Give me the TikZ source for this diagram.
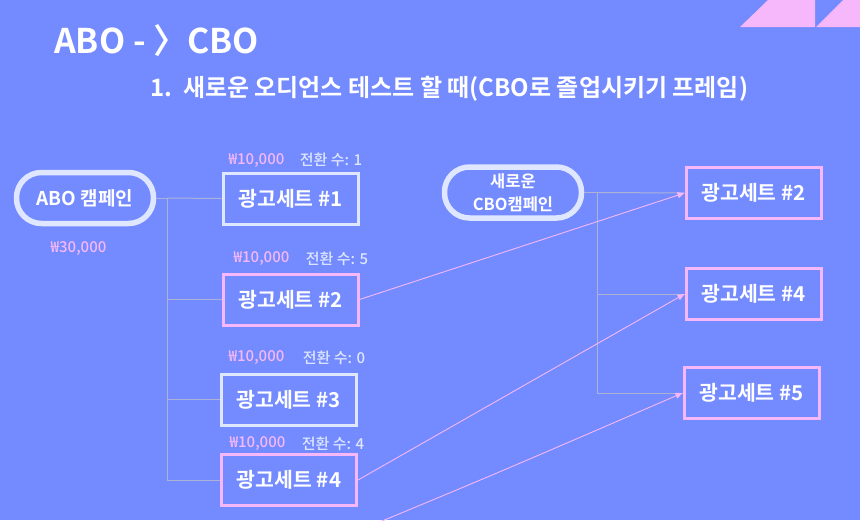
\documentclass[tikz,border=0pt]{standalone}
\usepackage{fontspec}
\newfontfamily\krb{Noto Sans CJK KR Bold}
\newfontfamily\krm{Noto Sans CJK KR Medium}
\usetikzlibrary{arrows.meta}
\definecolor{bg}{RGB}{116,138,255}
\definecolor{pk}{RGB}{246,184,250}
\definecolor{lt}{RGB}{222,231,255}
\definecolor{gl}{RGB}{172,178,214}
\tikzset{
  pill/.style={draw=lt, line width=5.5pt, rounded corners=25pt, minimum width=137pt, minimum height=51pt, inner sep=0pt, text=white, font=\krb\fontsize{19}{21}\selectfont, align=center},
  adbox/.style={line width=3pt, minimum width=135pt, minimum height=51pt, inner sep=0pt, text=white, font=\krb\fontsize{20.5}{22}\selectfont},
  ltbox/.style={adbox, draw=lt},
  pkbox/.style={adbox, draw=pk},
  price/.style={text=pk, font=\krm\fontsize{15}{17}\selectfont, inner sep=0pt},
  conv/.style={text=lt, font=\krm\fontsize{15}{17}\selectfont, inner sep=0pt},
  tree/.style={draw=gl, line width=1pt},
  link/.style={draw=pk, line width=0.9pt, -{Triangle[length=7pt,width=6pt]}},
}
\begin{document}
\begin{tikzpicture}[x=1pt,y=-1pt]
\fill[bg] (0,0) rectangle (860,520);
\useasboundingbox (0,0) rectangle (860,520);
% corner shapes
\fill[pk] (740,27) -- (768,0) -- (815,0) -- (815,27) -- cycle;
\fill[pk] (816,27) -- (843,0) -- (860,0) -- (860,27) -- cycle;
% titles
\node[anchor=west, text=white, font=\krb\fontsize{34}{37}\selectfont, inner sep=0pt] (title) at (54,41) {ABO - 〉CBO};
\node[anchor=west, text=white, font=\krb\fontsize{24}{27}\selectfont, inner sep=0pt] (sub) at (150,89) {1.\ \ 새로운 오디언스 테스트 할 때(CBO로 졸업시키기 프레임)};
% left campaign
\node[pill] (abo) at (85,198) {ABO 캠페인};
\node[price] (abop) at (78.5,249) {₩30,000};
\node[ltbox] (a1) at (290.5,198.5) {광고세트 \#1};
\node[pkbox] (a2) at (290.5,299.5) {광고세트 \#2};
\node[ltbox] (a3) at (288.5,399.5) {광고세트 \#3};
\node[pkbox] (a4) at (289,480) {광고세트 \#4};
\node[price] (p1) at (256.5,161) {₩10,000};
\node[conv]  (c1) at (331,160) {전환 수: 1};
\node[price] (p2) at (261.5,259) {₩10,000};
\node[conv]  (c2) at (337,259) {전환 수: 5};
\node[price] (p3) at (256.5,358) {₩10,000};
\node[conv]  (c3) at (334,358) {전환 수: 0};
\node[price] (p4) at (257.5,444) {₩10,000};
\node[conv]  (c4) at (333,444) {전환 수: 4};
% right campaign
\node[pill, font=\krb\fontsize{16.5}{23}\selectfont] (cbo) at (513,192.5) {새로운\\CBO캠페인};
\node[pkbox] (b2) at (753.5,193) {광고세트 \#2};
\node[pkbox] (b4) at (753.5,294) {광고세트 \#4};
\node[pkbox] (b5) at (751.5,393) {광고세트 \#5};
% tree connectors left
\coordinate (lj) at (167,198);
\draw[tree] (abo.east) -- (lj) -- (lj |- a4.west) -- (a4.west);
\draw[tree] (lj) -- (a1.west);
\draw[tree] (lj |- a2.west) -- (a2.west);
\draw[tree] (lj |- a3.west) -- (a3.west);
% tree connectors right
\coordinate (rj) at (597,192.5);
\draw[tree] (cbo.east) -- (rj) -- (rj |- b5.west) -- (b5.west);
\draw[tree] (rj) -- (b2.west);
\draw[tree] (rj |- b4.west) -- (b4.west);
% pink links
\coordinate (a5) at (370,526);
\draw[link] (a2.east) -- (b2.west);
\draw[link] (a4.east) -- (b4.west);
\draw[link] (a5) .. controls (500,472) .. (b5.west);
\end{tikzpicture}
\end{document}
